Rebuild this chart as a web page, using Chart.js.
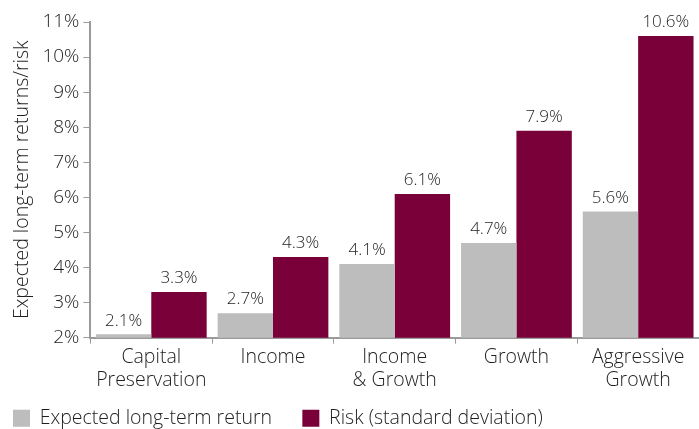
<!DOCTYPE html>
<html>
<head>
<meta charset="utf-8">
<script src="https://cdn.jsdelivr.net/npm/chart.js@4"></script>
<style>
  html, body { margin: 0; padding: 0; background: #fff; }
  #wrap { width: 699px; height: 429px; }
</style>
</head>
<body>
<div id="wrap"><canvas id="grafico"></canvas></div>
<script>
// Perfiles de cartera
const categorias = [
  ["Capital", "Preservation"],
  ["Income"],
  ["Income", "& Growth"],
  ["Growth"],
  ["Aggressive", "Growth"]
]
const retornoEsperado = [2.1, 2.7, 4.1, 4.7, 5.6] // Expected long-term return (%)
const riesgo = [3.3, 4.3, 6.1, 7.9, 10.6] // Risk, standard deviation (%)

const fuente = "'Open Sans', 'Noto Sans', sans-serif"
const peso = 300
const colorTexto = "#1e1e1e"
const colorEje = "#9a9a9a"

// Etiquetas de valor encima de cada barra
const etiquetasValor = {
  id: "etiquetasValor",
  afterDatasetsDraw(chart) {
    const ctx = chart.ctx
    ctx.save()
    ctx.font = peso + " 17px " + fuente
    ctx.fillStyle = colorTexto
    ctx.textAlign = "center"
    ctx.textBaseline = "bottom"
    chart.data.datasets.forEach((ds, i) => {
      chart.getDatasetMeta(i).data.forEach((bar, j) => {
        ctx.fillText(ds.data[j].toFixed(1) + "%", bar.x, bar.y - 5)
      })
    })
    ctx.restore()
  }
}

// Leyenda un poco más abajo y pegada al borde izquierdo
const ajusteLeyenda = {
  id: "ajusteLeyenda",
  afterLayout(chart) {
    chart.legend.left -= 3
    chart.legend.top += 9
    chart.legend.bottom += 9
  }
}

new Chart(document.getElementById("grafico"), {
  type: "bar",
  data: {
    labels: categorias,
    datasets: [
      {
        label: "Expected long-term return",
        data: retornoEsperado,
        backgroundColor: "#bdbdbd",
        categoryPercentage: 0.91,
        barPercentage: 1
      },
      {
        label: "Risk (standard deviation)",
        data: riesgo,
        backgroundColor: "#7a0039",
        categoryPercentage: 0.91,
        barPercentage: 1
      }
    ]
  },
  options: {
    responsive: true,
    maintainAspectRatio: false,
    animation: false,
    layout: { padding: { top: 22, right: 0, left: 11, bottom: 0 } },
    plugins: {
      tooltip: { enabled: false },
      legend: {
        position: "bottom",
        align: "start",
        labels: {
          color: colorTexto,
          font: { family: fuente, size: 19.5, weight: peso },
          boxWidth: 17,
          boxHeight: 17,
          padding: 5,
          // espacio extra entre los dos elementos
          generateLabels(chart) {
            const items = Chart.defaults.plugins.legend.labels.generateLabels(chart)
            items[0].text += "     "
            return items
          }
        }
      }
    },
    scales: {
      x: {
        grid: { drawOnChartArea: false, drawTicks: true, tickLength: 6, color: colorEje, offset: true },
        border: { color: colorEje, width: 2 },
        ticks: {
          color: colorTexto,
          font: { family: fuente, size: 19.5, weight: peso, lineHeight: 1.2 },
          maxRotation: 0,
          padding: 2
        }
      },
      y: {
        min: 2,
        max: 11,
        grid: { drawOnChartArea: false, drawTicks: true, tickLength: 7, color: colorEje },
        border: { color: colorEje, width: 2 },
        ticks: {
          stepSize: 1,
          color: colorTexto,
          font: { family: fuente, size: 19, weight: peso },
          padding: 4,
          callback: v => v + "%"
        },
        title: {
          display: true,
          text: "Expected long-term returns/risk",
          color: colorTexto,
          font: { family: fuente, size: 19.5, weight: peso },
          padding: { top: 0, bottom: 4 }
        }
      }
    }
  },
  plugins: [etiquetasValor, ajusteLeyenda]
})
</script>
</body>
</html>
